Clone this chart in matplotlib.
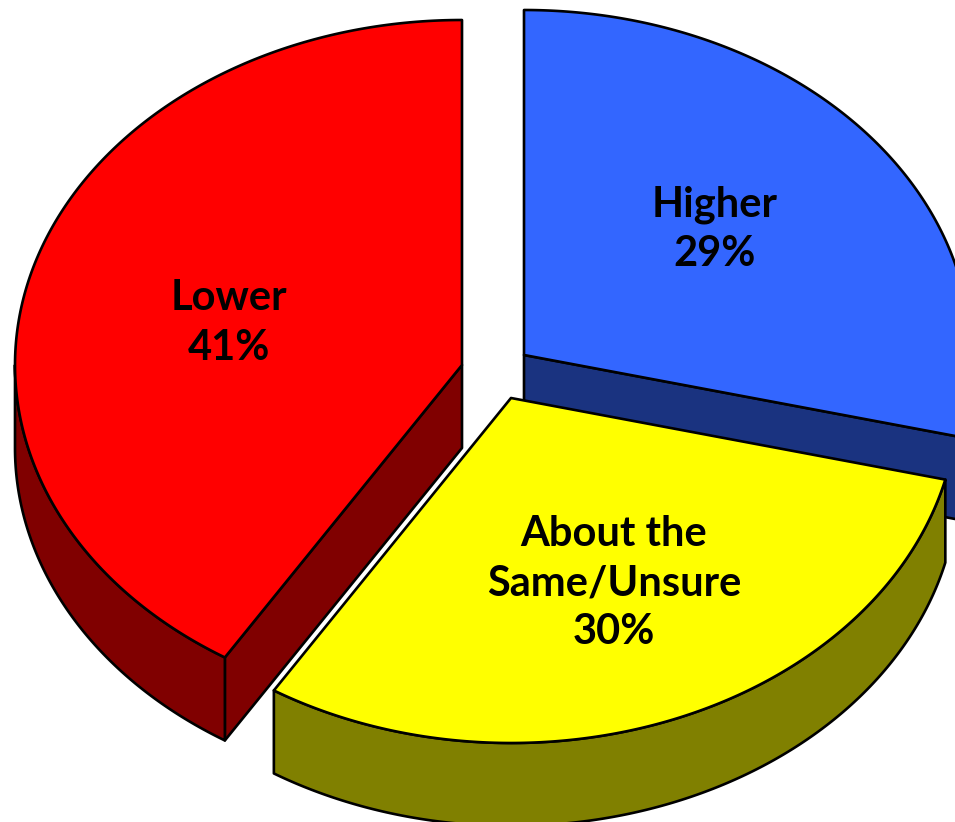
import numpy as np
import matplotlib
matplotlib.use('Agg')
import matplotlib.pyplot as plt

labels = ['Higher\n29%', 'About the\nSame/Unsure\n30%', 'Lower\n41%']
values = [28.8, 30.1, 41.1]
top_colors = ['#3366ff', '#ffff00', '#ff0000']
side_colors = ['#1a3380', '#808000', '#800000']

# apex of every exploded slice, in pixels
apex = [(524, 355), (511, 398), (462, 365)]
label_pos = [(715, 229), (614, 583), (229, 323)]

RX, RY = 447, 345
DEPTH = 83
EDGE = '#000000'
LW = 1.9

plt.rcParams['font.family'] = ['Lato', 'DejaVu Sans']

fig = plt.figure(figsize=(9.55, 8.22), dpi=100)
ax = fig.add_axes([0, 0, 1, 1])
ax.set_xlim(0, 955)
ax.set_ylim(822, 0)
ax.axis('off')


def arc(cx, cy, a0, a1, dy=0):
    # angles in degrees, clockwise from the top
    t = np.radians(np.linspace(a0, a1, 200))
    return cx + RX * np.sin(t), cy - RY * np.cos(t) + dy


def poly(x, y, color, z):
    ax.fill(x, y, facecolor=color, edgecolor=EDGE, linewidth=LW, joinstyle='round', zorder=z)


edges = np.concatenate([[0], np.cumsum(values)]) / sum(values) * 360

for i in range(len(values)):
    cx, cy = apex[i]
    a0, a1 = edges[i], edges[i + 1]
    z = [1, 4, 2][i]
    x, y = arc(cx, cy, a0, a1)

    # cut faces that show towards the viewer
    if i == 0:
        poly([cx, x[-1], x[-1], cx], [cy, y[-1], y[-1] + DEPTH, cy + DEPTH], side_colors[i], z)
    if i == 2:
        poly([cx, x[0], x[0], cx], [cy, y[0], y[0] + DEPTH, cy + DEPTH], side_colors[i], z)

    # outer rim, only the part of the arc facing down
    lo = max(a0, 90)
    hi = min(a1, 270)
    rx, ry = arc(cx, cy, lo, hi)
    poly(np.concatenate([rx, rx[::-1]]), np.concatenate([ry, ry[::-1] + DEPTH]), side_colors[i], z)

    # top face
    poly(np.concatenate([[cx], x]), np.concatenate([[cy], y]), top_colors[i], z + 0.5)

    ax.text(label_pos[i][0], label_pos[i][1], labels[i], ha='center', va='center',
            fontsize=30, fontweight='bold', color='#000000', linespacing=1.36, zorder=10)

fig.savefig('out.png', dpi=100)
